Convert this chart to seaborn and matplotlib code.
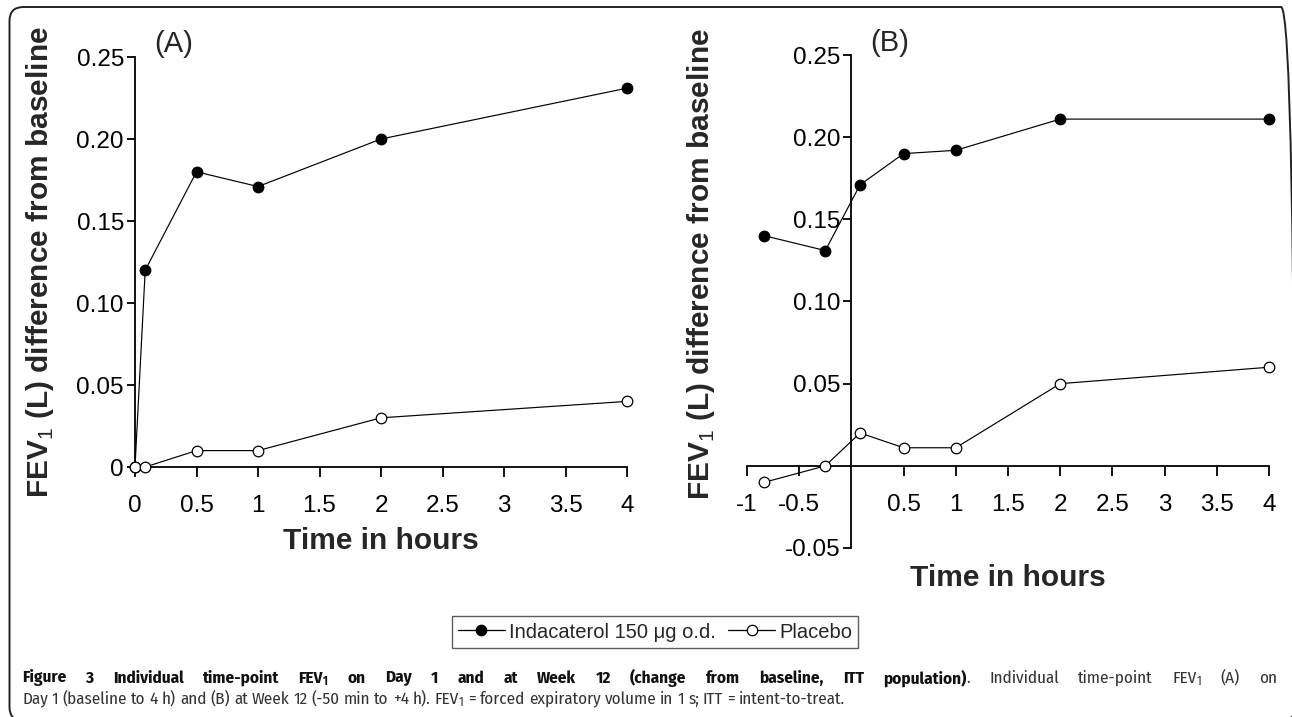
import matplotlib
matplotlib.use("Agg")
import os
import matplotlib.pyplot as plt
import matplotlib.transforms as mtransforms
from matplotlib import font_manager as fm
from matplotlib.font_manager import FontProperties
from matplotlib.lines import Line2D
from matplotlib.patches import FancyBboxPatch
import seaborn as sns
import pandas as pd

# ---------------- data ----------------
day1_hours = [0, 0.083, 0.5, 1, 2, 4]
day1_indacaterol = [0, 0.12, 0.18, 0.171, 0.20, 0.231]
day1_placebo = [0, 0, 0.01, 0.01, 0.03, 0.04]

week12_hours = [-0.833, -0.25, 0.083, 0.5, 1, 2, 4]
week12_indacaterol = [0.14, 0.131, 0.171, 0.19, 0.192, 0.211, 0.211]
week12_placebo = [-0.01, 0.0, 0.02, 0.011, 0.011, 0.05, 0.06]

series_labels = ["Indacaterol 150 \u03bcg o.d.", "Placebo"]

a_xticks = [0, 0.5, 1, 1.5, 2, 2.5, 3, 3.5, 4]
a_xticklabels = ["0", "0.5", "1", "1.5", "2", "2.5", "3", "3.5", "4"]
a_yticks = [0, 0.05, 0.10, 0.15, 0.20, 0.25]
a_yticklabels = ["0", "0.05", "0.10", "0.15", "0.20", "0.25"]

b_xticks = [-1, -0.5, 0.5, 1, 1.5, 2, 2.5, 3, 3.5, 4]
b_xticklabels = ["-1", "-0.5", "0.5", "1", "1.5", "2", "2.5", "3", "3.5", "4"]
b_yticks = [-0.05, 0.05, 0.10, 0.15, 0.20, 0.25]
b_yticklabels = ["-0.05", "0.05", "0.10", "0.15", "0.20", "0.25"]

ylabel_text = r"FEV$_{\mathrm{1}}$ (L) difference from baseline"
xlabel_text = "Time in hours"

# caption; "FEV_1" marks a subscript 1
caption_bold = ("Figure 3 Individual time-point FEV_1 on Day 1 and at Week 12 "
                "(change from baseline, ITT population)")
caption_reg1 = ". Individual time-point FEV_1 (A) on"
caption_reg2 = ("Day 1 (baseline to 4 h) and (B) at Week 12 (-50 min to +4 h). "
                "FEV_1 = forced expiratory volume in 1 s; ITT = intent-to-treat.")

# ---------------- style ----------------
sns.set_style("ticks")
plt.rcParams["font.family"] = ["Liberation Sans", "DejaVu Sans"]
plt.rcParams["mathtext.fontset"] = "custom"
plt.rcParams["mathtext.rm"] = "Liberation Sans"
plt.rcParams["mathtext.bf"] = "Liberation Sans:bold"

W, H = 1292, 717
fig = plt.figure(figsize=(W / 100, H / 100), dpi=100)
fig.patch.set_facecolor("white")


def px_axes(l, t, r, b):
    return [l / W, 1 - b / H, (r - l) / W, (b - t) / H]


axA = fig.add_axes(px_axes(135, 57, 627, 467))
axB = fig.add_axes(px_axes(747, 55, 1269, 548))

dfA = pd.DataFrame({"hours": day1_hours * 2,
                    "fev": day1_indacaterol + day1_placebo,
                    "group": [series_labels[0]] * len(day1_hours) + [series_labels[1]] * len(day1_hours)})
dfB = pd.DataFrame({"hours": week12_hours * 2,
                    "fev": week12_indacaterol + week12_placebo,
                    "group": [series_labels[0]] * len(week12_hours) + [series_labels[1]] * len(week12_hours)})

facecolors = {series_labels[0]: "black", series_labels[1]: "white"}

for ax, df in ((axA, dfA), (axB, dfB)):
    for i, g in enumerate(series_labels):
        sub = df[df["group"] == g]
        sns.lineplot(data=sub, x="hours", y="fev", ax=ax, color="black",
                     marker="o", markersize=7.6, markerfacecolor=facecolors[g],
                     markeredgecolor="black", markeredgewidth=0.9,
                     linewidth=0.85, sort=False, errorbar=None, legend=False,
                     clip_on=False, zorder=5 + i)

# ---- panel A axes ----
axA.set_xlim(0, 4)
axA.set_ylim(0, 0.25)
axA.spines["top"].set_visible(False)
axA.spines["right"].set_visible(False)
axA.set_xticks(a_xticks)
axA.set_xticklabels(a_xticklabels)
axA.set_yticks(a_yticks)
axA.set_yticklabels(a_yticklabels)

# ---- panel B axes ----
axB.set_xlim(-1, 4)
axB.set_ylim(-0.05, 0.25)
axB.spines["top"].set_visible(False)
axB.spines["right"].set_visible(False)
axB.spines["left"].set_position(("data", 0))
axB.spines["bottom"].set_position(("data", 0))
axB.set_xticks(b_xticks)
axB.set_xticklabels(b_xticklabels)
axB.set_yticks(b_yticks)
axB.set_yticklabels(b_yticklabels)

for ax in (axA, axB):
    ax.set_facecolor("none")
    for s in ("left", "bottom"):
        ax.spines[s].set_linewidth(1.3)
        ax.spines[s].set_color("black")
        ax.spines[s].set_zorder(3)
    ax.tick_params(axis="x", direction="out", length=7.5, width=1.3,
                   pad=13, labelsize=17.5, colors="black")
    ax.tick_params(axis="y", direction="out", length=5.5, width=1.3,
                   pad=2.5, labelsize=17.5, colors="black")
    ax.set_xlabel(xlabel_text, fontsize=21.5, fontweight="bold")
    ax.set_ylabel(ylabel_text, fontsize=21.5, fontweight="bold")
    ax.xaxis.label.set_va("center")
    ax.yaxis.label.set_va("center")

axA.xaxis.set_label_coords(381 / W, 1 - 541 / H, transform=fig.transFigure)
axA.yaxis.set_label_coords(40 / W, 1 - 262 / H, transform=fig.transFigure)
axB.xaxis.set_label_coords(1008 / W, 1 - 578 / H, transform=fig.transFigure)
axB.yaxis.set_label_coords(701 / W, 1 - 264 / H, transform=fig.transFigure)

fig.text(174 / W, 1 - 44 / H, "(A)", fontsize=21, ha="center", va="center")
fig.text(890 / W, 1 - 43 / H, "(B)", fontsize=21, ha="center", va="center")

# ---- legend ----
handles = [Line2D([], [], color="black", marker="o", markersize=7.5,
                  markerfacecolor=facecolors[g], markeredgecolor="black",
                  markeredgewidth=0.9, linewidth=0.9) for g in series_labels]
leg = fig.legend(handles=handles, labels=series_labels, loc="center",
                 bbox_to_anchor=(655 / W, 1 - 632 / H), ncol=2, frameon=True,
                 fancybox=False, edgecolor="#333333", fontsize=14.5,
                 handlelength=2.35, handletextpad=0.2, columnspacing=0.6,
                 borderpad=0.3, borderaxespad=0)
leg.get_frame().set_linewidth(1.0)


# ---- caption font: Fira Sans Condensed if installed ----
def find_file(basenames):
    files = {os.path.basename(f.fname): f.fname for f in fm.fontManager.ttflist}
    for b in basenames:
        if b in files:
            return files[b]
    return None


_reg_file = find_file(["FiraSansCondensed-Regular.ttf", "DejaVuSansCondensed.ttf"])
_bold_file = find_file(["FiraSansCondensed-Bold.ttf", "DejaVuSansCondensed-Bold.ttf"])
fp_reg = FontProperties(fname=_reg_file) if _reg_file else FontProperties(family="DejaVu Sans")
fp_bold = FontProperties(fname=_bold_file) if _bold_file else FontProperties(family="DejaVu Sans", weight="bold")

renderer = fig.canvas.get_renderer()
x_left = 22
line1_right = 1277
line2_right = 845
y_line1 = 678
y_line2 = 699


def word_parts(word):
    # split a word into (text, is_subscript) parts
    if "_1" in word:
        a, b = word.split("_1", 1)
        parts = [(a, False), ("1", True)]
        if b:
            parts.append((b, False))
        return parts
    return [(word, False)]


def part_width(s, size, bold, sub):
    fp = (fp_bold if bold else fp_reg).copy()
    fp.set_size(size * (0.7 if sub else 1.0))
    t = fig.text(0, 0, s, fontproperties=fp)
    w = t.get_window_extent(renderer).width
    t.remove()
    return w


def word_width(word, size, bold):
    return sum(part_width(s, size, bold, sub) for s, sub in word_parts(word))


def draw_word(word, x, y, size, bold, color):
    for s, sub in word_parts(word):
        fp = (fp_bold if bold else fp_reg).copy()
        fp.set_size(size * (0.7 if sub else 1.0))
        yy = y + (size * 0.3 if sub else 0)
        fig.text(x / W, 1 - yy / H, s, fontproperties=fp, color=color,
                 ha="left", va="center")
        x += part_width(s, size, bold, sub)
    return x


def space_width(size, bold):
    return part_width("a a", size, bold, False) - part_width("aa", size, bold, False)


# line 2 (not justified): fit font size to the line length
line2_words = caption_reg2.split(" ")


def line2_width(size):
    return (sum(word_width(w, size, False) for w in line2_words)
            + space_width(size, False) * (len(line2_words) - 1))


size = 10 * (line2_right - x_left) / line2_width(10)
x = x_left
sp = space_width(size, False)
for i, w in enumerate(line2_words):
    if i > 0:
        x += sp
    x = draw_word(w, x, y_line2, size, False, "#333333")

# line 1 (justified across the full width)
tokens = [(w, True, True) for w in caption_bold.split(" ")]
reg_words = caption_reg1.split(" ")
tokens.append((reg_words[0], False, False))
tokens += [(w, False, True) for w in reg_words[1:]]
widths = [word_width(w, size, b) for w, b, _ in tokens]
n_gaps = sum(1 for i, t in enumerate(tokens) if i > 0 and t[2])
gap = (line1_right - x_left - sum(widths)) / n_gaps
x = x_left
for i, ((w, b, s), wd) in enumerate(zip(tokens, widths)):
    if i > 0 and s:
        x += gap
    draw_word(w, x, y_line1, size, b, "#111111" if b else "#333333")
    x += wd

# ---- outer rounded frame ----
frame = FancyBboxPatch((9.5, -4), 1285.5, 714,
                       boxstyle="round,pad=0,rounding_size=14",
                       transform=mtransforms.IdentityTransform(),
                       facecolor="none", edgecolor="#222222", linewidth=1.4,
                       clip_on=False)
fig.add_artist(frame)

fig.savefig("out.png", dpi=100)
